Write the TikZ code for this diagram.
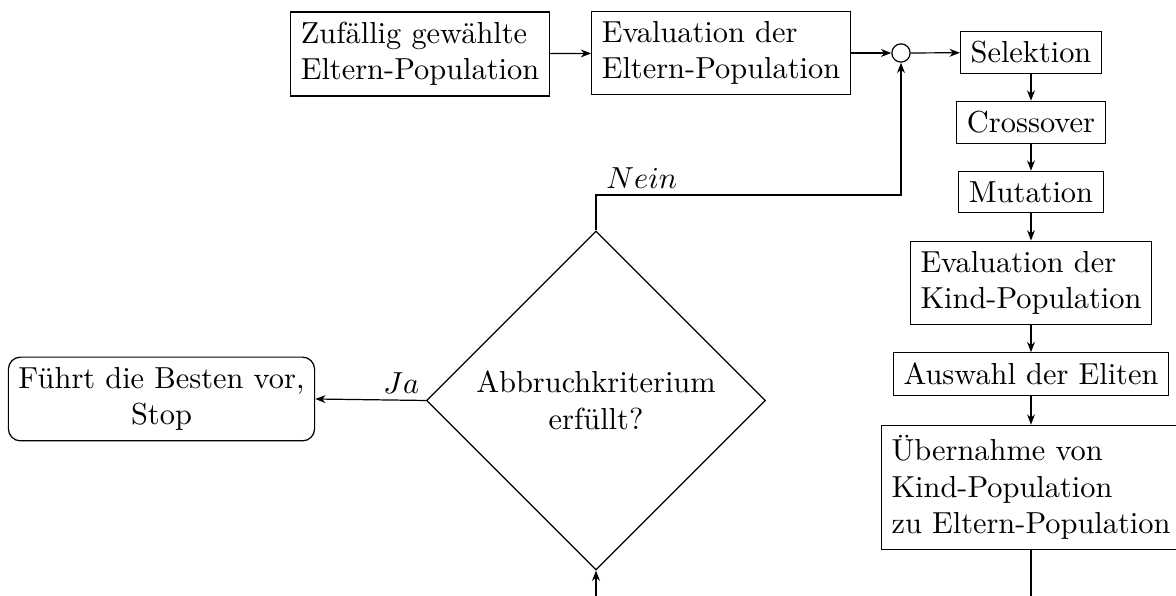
\documentclass[tikz,border=0pt]{standalone}
\usepackage{fontspec}
\usetikzlibrary{shapes.geometric,arrows.meta}
\begin{document}
\begin{tikzpicture}[x=0.3289pt,y=-0.3289pt,
  >={Stealth[length=3.4pt,width=2.6pt]},
  box/.style={draw, rectangle, align=left, inner sep=3.33pt},
  endbox/.style={draw, rectangle, rounded corners=4pt, align=center, inner sep=3.33pt},
  junction/.style={draw, circle, minimum size=6pt, inner sep=0pt},
  decision/.style={draw, diamond, aspect=1, align=center, inner sep=0pt,
    minimum width=111.5pt, minimum height=111.5pt},
  flow/.style={->}]
\useasboundingbox (0,0) rectangle (1176,596);
\clip (0,0) rectangle (1176,596);

% top row
\node[box] (init) at (420,54) {Zufällig gewählte\\Eltern-Population};
\node[box] (evalp) at (721,53) {Evaluation der\\Eltern-Population};
\node[junction] (join) at (901,53) {};

% right column
\node[box] (sel) at (1031,52.5) {Selektion};
\node[box] (cross) at (1031,122.5) {Crossover};
\node[box] (mut) at (1031,192) {Mutation};
\node[box] (evalk) at (1031,283) {Evaluation der\\Kind-Population};
\node[box] (elite) at (1031,374) {Auswahl der Eliten};
\node[box] (ueb) at (1031,487.5) {Übernahme von\\Kind-Population\\zu Eltern-Population};

% decision and end
\node[decision] (dec) at (596,400.5) {Abbruchkriterium\\erfüllt?};
\node[endbox] (stop) at (161.5,399) {Führt die Besten vor,\\Stop};

\coordinate (low) at (1031,640);

% connectors
\draw[flow] (init) -- (evalp);
\draw[flow] (evalp) -- (join);
\draw[flow] (join) -- (sel);
\draw[flow] (sel) -- (cross);
\draw[flow] (cross) -- (mut);
\draw[flow] (mut) -- (evalk);
\draw[flow] (evalk) -- (elite);
\draw[flow] (elite) -- (ueb);
\draw[flow] (ueb.south) -- (ueb.south |- low) -| (dec.south);
\draw[flow] (dec.north) -- (dec.north |- 0,195) -| node[pos=0.075, above, inner sep=2pt] {$Nein$} (join.south);
\draw[flow] (dec.west) -- node[pos=0, above left, inner sep=2pt] {$Ja$} (stop.east);
\end{tikzpicture}
\end{document}
